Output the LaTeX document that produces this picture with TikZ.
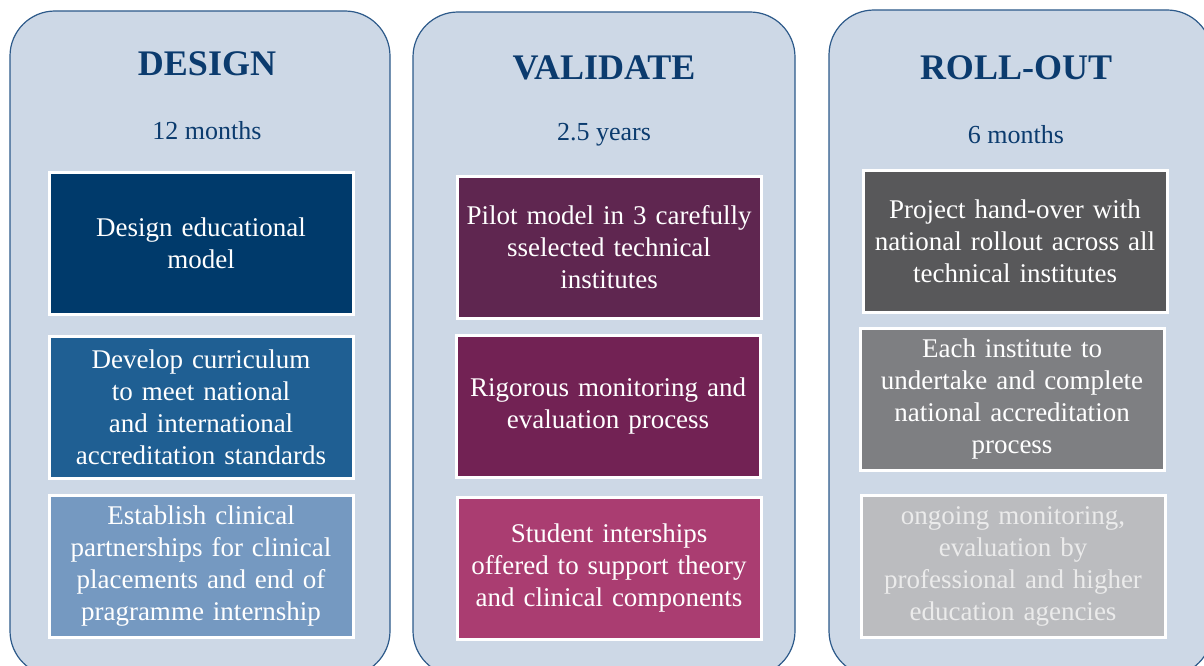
\documentclass[tikz,border=0pt]{standalone}
\usepackage{fontspec}
\setmainfont{Liberation Serif}

\definecolor{panelfill}{HTML}{CDD8E6}
\definecolor{paneledge}{HTML}{2D5A8A}
\definecolor{navy}{HTML}{0B3B6E}
\definecolor{designA}{HTML}{003A6B}
\definecolor{designB}{HTML}{1F5F93}
\definecolor{designC}{HTML}{7599C1}
\definecolor{validA}{HTML}{5F2650}
\definecolor{validB}{HTML}{722254}
\definecolor{validC}{HTML}{AA3D71}
\definecolor{rollA}{HTML}{58585A}
\definecolor{rollB}{HTML}{7E7F82}
\definecolor{rollC}{HTML}{BBBCBF}

\begin{document}
\begin{tikzpicture}[x=1pt,y=-1pt,
		panel/.style={draw=paneledge,line width=1.2pt,fill=panelfill,rounded corners=45pt},
		phase/.style={text=navy,font=\fontsize{36}{40}\selectfont\bfseries},
		duration/.style={text=navy,font=\fontsize{26}{30}\selectfont},
		stepbox/.style={draw=white,line width=3pt,minimum width=304pt,minimum height=142pt,
			text width=296pt,align=center,text=white,inner sep=0pt,
			font=\fontsize{27}{32}\selectfont}]
				\useasboundingbox (0,0) rectangle (1204,666);
				\clip (0,0) rectangle (1204,666);
				
				% Draw the three phase panels
				\draw[panel] (10,11) rectangle (390,676);
				\draw[panel] (413,12) rectangle (795,676);
				\draw[panel] (829,10) rectangle (1212,676);
				
				% Phase titles and durations
				\node[phase] (design) at (207,64) {DESIGN};
				\node[phase] (validate) at (604,68) {VALIDATE};
				\node[phase] (rollout) at (1016,68) {ROLL-OUT};
				\node[duration] (designtime) at (207,131) {12 months};
				\node[duration] (validatetime) at (604,135) {2.5 years};
				\node[duration] (rollouttime) at (1016,135) {6 months};
				
				% Design steps
				\node[stepbox,fill=designA] (design1) at (201,243) {Design educational\\model};
				\node[stepbox,fill=designB] (design2) at (201,407) {Develop curriculum\\to meet national\\and international\\accreditation standards};
				\node[stepbox,fill=designC] (design3) at (201,566) {Establish clinical\\partnerships for clinical\\placements and end of\\pragramme internship};
				
				% Validate steps
				\node[stepbox,fill=validA] (validate1) at (609,247) {Pilot model in 3 carefully\\sselected technical\\institutes};
				\node[stepbox,fill=validB] (validate2) at (608,406) {Rigorous monitoring and\\evaluation process};
				\node[stepbox,fill=validC] (validate3) at (609,568) {Student interships\\offered to support theory\\and clinical components};
				
				% Roll-out steps
				\node[stepbox,fill=rollA] (rollout1) at (1015,241) {Project hand-over with\\national rollout across all\\technical institutes};
				\node[stepbox,fill=rollB] (rollout2) at (1012,399) {Each institute to\\undertake and complete\\national accreditation\\process};
				\node[stepbox,fill=rollC,text=white!92!black] (rollout3) at (1013,566) {ongoing monitoring,\\evaluation by\\professional and higher\\education agencies};
			\end{tikzpicture}
\end{document}
